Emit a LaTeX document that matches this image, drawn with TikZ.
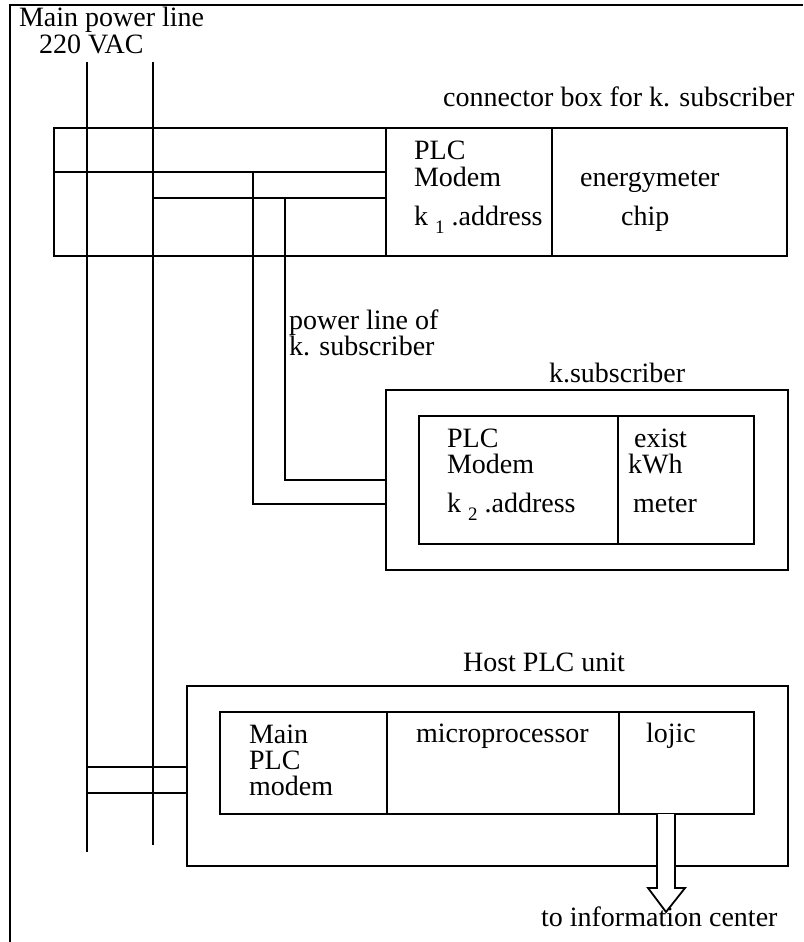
\documentclass[tikz,border=0pt]{standalone}
\usepackage{fontspec}
\setmainfont{Liberation Serif}
\newcommand{\sbsc}[1]{\hspace{7pt}\raisebox{-8pt}{\fontsize{19}{19}\selectfont #1}\hspace{7pt}}
\begin{document}
\begin{tikzpicture}[x=1pt, y=-1pt, line width=2.2pt, line join=miter,
  font=\fontsize{28}{30}\selectfont,
  box/.style={draw, inner sep=0pt, anchor=north west},
  txt/.style={inner sep=0pt, anchor=base west}]
\useasboundingbox (0,0) rectangle (803,942);
\draw (10,942)--(10,5)--(803,5);
% power line
\coordinate (la) at (87,62); \coordinate (lb) at (153,62);
\coordinate (la end) at (87,852); \coordinate (lb end) at (153,845);
\node[txt] (mainline) at (18,27) {Main power line};
\node[txt] (vac) at (38,53) {220 VAC};
% connector box
\node[box, minimum width=733, minimum height=128] (cbox) at (53,127) {};
\node[box, minimum width=166, minimum height=128] (cmodem) at (385,127) {};
\node[box, minimum width=235, minimum height=128] (cmeter) at (551,127) {};
\node[txt] (cboxlbl) at (442,106) {connector box for k. subscriber};
\node[txt] (cplc) at (413,159) {PLC};
\node[txt] (cmdm) at (413,186) {Modem};
\node[txt] (cadr) at (413,225) {k\sbsc{1}.address};
\node[txt] (cen) at (579,186) {energymeter};
\node[txt] (cchip) at (620,225) {chip};
% subscriber
\node[box, minimum width=402, minimum height=180] (sbox) at (385,389) {};
\node[box, minimum width=199, minimum height=128] (smodem) at (418,415) {};
\node[box, minimum width=136, minimum height=128] (smeter) at (617,415) {};
\node[txt] (sboxlbl) at (548,382) {k.subscriber};
\node[txt] (pl1) at (288,329) {power line of};
\node[txt] (pl2) at (288,355) {k. subscriber};
\node[txt] (splc) at (446,447) {PLC};
\node[txt] (smdm) at (446,473) {Modem};
\node[txt] (sadr) at (446,512) {k\sbsc{2}.address};
\node[txt] (sex) at (633,447) {exist};
\node[txt] (skwh) at (627,473) {kWh};
\node[txt] (smtr) at (632,512) {meter};
% host
\node[box, minimum width=601, minimum height=180] (hbox) at (186,685) {};
\node[box, minimum width=167, minimum height=102] (hmodem) at (219,711) {};
\node[box, minimum width=232, minimum height=102] (hcpu) at (386,711) {};
\node[box, minimum width=135, minimum height=102] (hlogic) at (618,711) {};
\node[txt] (hboxlbl) at (462,671) {Host PLC unit};
\node[txt] (hm1) at (248,743) {Main};
\node[txt] (hm2) at (248,769) {PLC};
\node[txt] (hm3) at (248,795) {modem};
\node[txt] (hmp) at (415,742) {microprocessor};
\node[txt] (hlj) at (645,742) {lojic};
% wiring
\draw (la)--(la end); \draw (lb)--(lb end);
\draw (cbox.west |- 0,172)--(cmodem.west |- 0,172);
\draw (lb |- 0,198)--(cmodem.west |- 0,198);
\draw (253,172)--(253,504)--(sbox.west |- 0,504);
\draw (285,198)--(285,480)--(sbox.west |- 0,480);
\draw (la |- 0,767)--(hbox.west |- 0,767);
\draw (la |- 0,793)--(hbox.west |- 0,793);
\coordinate (out) at (666,814);
\draw[fill=white, line width=1.8pt] (out)++(-9,0)--++(0,74)--++(-9,0)--(666,912)--(685,888)--++(-10,0)--(675,814);
\node[txt] (info) at (540,926) {to information center};
\end{tikzpicture}
\end{document}
